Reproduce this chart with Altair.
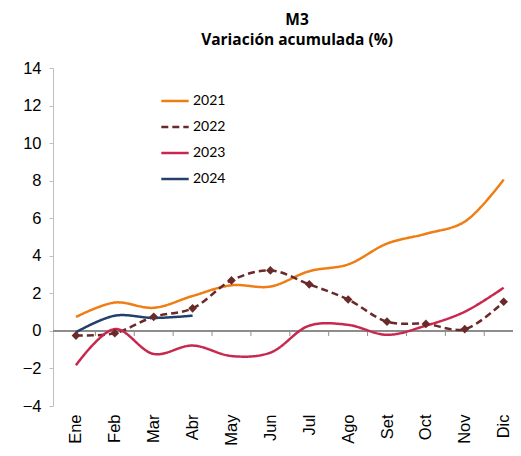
import altair as alt
import pandas as pd

months = ["Ene", "Feb", "Mar", "Abr", "May", "Jun", "Jul", "Ago", "Set", "Oct", "Nov", "Dic"]
years = ["2021", "2022", "2023", "2024"]
v2021 = [0.74, 1.51, 1.23, 1.86, 2.43, 2.36, 3.18, 3.54, 4.65, 5.17, 5.82, 8.06]
v2022 = [-0.25, -0.12, 0.75, 1.20, 2.69, 3.22, 2.48, 1.67, 0.49, 0.37, 0.09, 1.55]
v2023 = [-1.83, 0.10, -1.23, -0.78, -1.34, -1.16, 0.28, 0.32, -0.21, 0.28, 1.02, 2.30]
v2024 = [-0.07, 0.81, 0.69, 0.81]
colors = ["#EE7D14", "#6B2A2A", "#C8284F", "#23406A"]
y_ticks = list(range(-4, 15, 2))

rows = []
for yr, vals in zip(years, [v2021, v2022, v2023, v2024]):
    for i, v in enumerate(vals):
        rows.append({"idx": i, "mes": months[i], "serie": yr, "valor": v})
df = pd.DataFrame(rows)
bounds = pd.DataFrame({"b": [i + 0.5 for i in range(len(months) - 1)]})

label_expr = "[" + ",".join("'%s'" % m for m in months) + "][datum.value]"

xscale = alt.Scale(domain=[-0.59, 11.24], nice=False, zero=False)
yscale = alt.Scale(domain=[-4, 14], nice=False, zero=False)

xaxis = alt.Axis(values=list(range(12)), labelExpr=label_expr, labelAngle=270,
                 labelFont="Liberation Sans", labelFontSize=16.5, labelColor="black",
                 labelPadding=8, domain=False, ticks=False, grid=False, labelOverlap=False)
yaxis = alt.Axis(values=y_ticks, grid=False, domainColor="#BFBFBF", tickColor="#BFBFBF",
                 tickSize=4, labelFont="Liberation Sans", labelFontSize=16.5,
                 labelColor="black", labelPadding=8, labelOverlap=False)

xenc = alt.X("idx:Q", scale=xscale, title=None, axis=xaxis)
yenc = alt.Y("valor:Q", scale=yscale, title=None, axis=yaxis)

zero = alt.Chart(df).mark_rule(color="#8C8C8C", strokeWidth=1).encode(
    y=alt.YDatum(0, scale=yscale, axis=yaxis, title=None))
ticks = alt.Chart(bounds).mark_rule(color="#8C8C8C", strokeWidth=1).encode(
    x=alt.X("b:Q", scale=xscale, axis=xaxis, title=None),
    y=alt.YDatum(0, scale=yscale, axis=yaxis, title=None), y2=alt.datum(-0.27))

leg = alt.Legend(title=None, orient="none", legendX=107, legendY=18,
                 symbolType="stroke", symbolSize=750, symbolStrokeWidth=2.5,
                 labelFont="Lato", labelFontSize=14, labelColor="black",
                 rowPadding=4, labelOffset=3)

lines = alt.Chart(df).mark_line(interpolate="catmull-rom", strokeWidth=2.5).encode(
    x=xenc, y=yenc,
    color=alt.Color("serie:N", scale=alt.Scale(domain=years, range=colors), legend=leg),
    strokeDash=alt.StrokeDash("serie:N", scale=alt.Scale(domain=years, range=[[1, 0], [7, 4], [1, 0], [1, 0]]),
                              legend=leg),
    order="idx:Q",
)

pts = alt.Chart(df).transform_filter(alt.datum.serie == "2022").mark_point(
    shape="diamond", filled=True, size=75, color="#6B2A2A", opacity=1).encode(x=xenc, y=yenc)

chart = alt.layer(zero, ticks, lines, pts).properties(
    width=460, height=338,
    title=alt.TitleParams(text=["M3", "Variación acumulada (%)"], font="Open Sans", fontSize=15.5,
                          fontWeight="bold", anchor="middle", dx=14, offset=12, lineHeight=20,
                          color="black"),
    autosize=alt.AutoSizeParams(type="none"),
    padding={"left": 45, "top": 60, "right": 0, "bottom": 42},
).configure_view(stroke=None)

chart.save("out.html", embed_options={"renderer": "svg", "actions": False})
